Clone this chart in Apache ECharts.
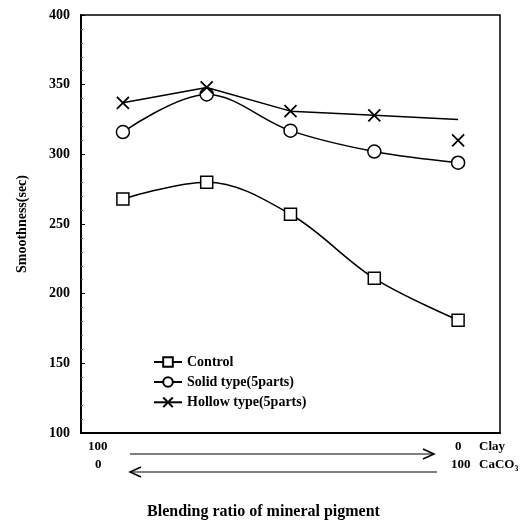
<!DOCTYPE html>
<html>
<head>
<meta charset="utf-8">
<script src="https://cdn.jsdelivr.net/npm/echarts@6/dist/echarts.min.js"></script>
<style>
  html, body { margin: 0; padding: 0; background: #fff; }
  #chart { width: 527px; height: 526px; }
</style>
</head>
<body>
<div id="chart"></div>
<script>
// data
var categories = ['100/0', '75/25', '50/50', '25/75', '0/100'];
var control = [268, 280, 257, 211, 181];
var solid = [316, 343, 317, 302, 294];
var hollow = [337, 348, 331, 328, 325];
var hollowLast = [null, null, null, null, 310];
var yTicks = [100, 150, 200, 250, 300, 350, 400];

var serif = 'Liberation Serif';
var xMark = 'path://M0,0L10,10M10,0L0,10';
var labelFont = 'bold 13px "Liberation Serif"';

var chart = echarts.init(document.getElementById('chart'));

// hollow line runs to the last slot, the marker there sits lower
var hollowData = hollow.map(function (v, i) {
  return i === hollow.length - 1 ? { value: v, symbol: 'none' } : v;
});

var option = {
  animation: false,
  grid: {
    left: 81, right: 27, top: 15, bottom: 93,
    show: true, borderColor: '#000', borderWidth: 1.5
  },
  legend: {
    orient: 'vertical',
    left: 148, top: 350,
    itemWidth: 28, itemHeight: 12, itemGap: 6,
    textStyle: { fontFamily: serif, fontWeight: 'bold', fontSize: 14, color: '#000' },
    data: ['Control', 'Solid type(5parts)', 'Hollow type(5parts)']
  },
  xAxis: {
    type: 'category',
    data: categories,
    boundaryGap: true,
    axisLine: { lineStyle: { color: '#000', width: 2 } },
    axisTick: { show: false },
    axisLabel: { show: false }
  },
  yAxis: {
    type: 'value',
    min: yTicks[0], max: yTicks[yTicks.length - 1], interval: 50,
    name: 'Smoothness(sec)',
    nameLocation: 'middle',
    nameGap: 52,
    nameTextStyle: { fontFamily: serif, fontWeight: 'bold', fontSize: 14, color: '#000' },
    axisLine: { show: true, lineStyle: { color: '#000', width: 2 } },
    axisTick: { show: true, inside: true, length: 4, lineStyle: { color: '#000' } },
    minorTick: { show: true, splitNumber: 5, length: 2, lineStyle: { color: '#666' } },
    splitLine: { show: false },
    axisLabel: { fontFamily: serif, fontWeight: 'bold', fontSize: 14, color: '#000', margin: 11 }
  },
  series: [
    {
      name: 'Control', type: 'line', data: control, smooth: 0.35,
      symbol: 'rect', symbolSize: 12,
      lineStyle: { color: '#000', width: 1.5 },
      itemStyle: { color: '#fff', borderColor: '#000', borderWidth: 1.5 }
    },
    {
      name: 'Solid type(5parts)', type: 'line', data: solid, smooth: 0.35,
      symbol: 'circle', symbolSize: 13,
      lineStyle: { color: '#000', width: 1.5 },
      itemStyle: { color: '#fff', borderColor: '#000', borderWidth: 1.5 }
    },
    {
      name: 'Hollow type(5parts)', type: 'line', data: hollowData,
      symbol: xMark, symbolSize: 12,
      lineStyle: { color: '#000', width: 1.5 },
      itemStyle: { color: 'none', borderColor: '#000', borderWidth: 1.8 }
    },
    {
      name: 'Hollow end', type: 'line', data: hollowLast,
      symbol: xMark, symbolSize: 12, showAllSymbol: true,
      lineStyle: { width: 0 },
      itemStyle: { color: 'none', borderColor: '#000', borderWidth: 1.8 }
    }
  ],
  graphic: [
    { type: 'text', left: 88, top: 440, style: { text: '100', font: labelFont, fill: '#000' } },
    { type: 'text', left: 95, top: 458, style: { text: '0', font: labelFont, fill: '#000' } },
    { type: 'text', left: 455, top: 440, style: { text: '0', font: labelFont, fill: '#000' } },
    { type: 'text', left: 451, top: 458, style: { text: '100', font: labelFont, fill: '#000' } },
    { type: 'text', left: 479, top: 440, style: { text: 'Clay', font: labelFont, fill: '#000' } },
    { type: 'text', left: 479, top: 458, style: { text: 'CaCO₃', font: labelFont, fill: '#000' } },
    { type: 'line', shape: { x1: 130, y1: 454, x2: 434, y2: 454 }, style: { stroke: '#000', lineWidth: 1.2 } },
    { type: 'polyline', shape: { points: [[423, 449], [434, 454], [423, 459]] }, style: { stroke: '#000', lineWidth: 1.5, fill: 'none' } },
    { type: 'line', shape: { x1: 130, y1: 472, x2: 437, y2: 472 }, style: { stroke: '#000', lineWidth: 1.2 } },
    { type: 'polyline', shape: { points: [[141, 467], [130, 472], [141, 477]] }, style: { stroke: '#000', lineWidth: 1.5, fill: 'none' } },
    { type: 'text', left: 'center', top: 504, style: { text: 'Blending ratio of mineral pigment', font: 'bold 16px "Liberation Serif"', fill: '#000' } }
  ]
};

chart.setOption(option);
</script>
</body>
</html>
